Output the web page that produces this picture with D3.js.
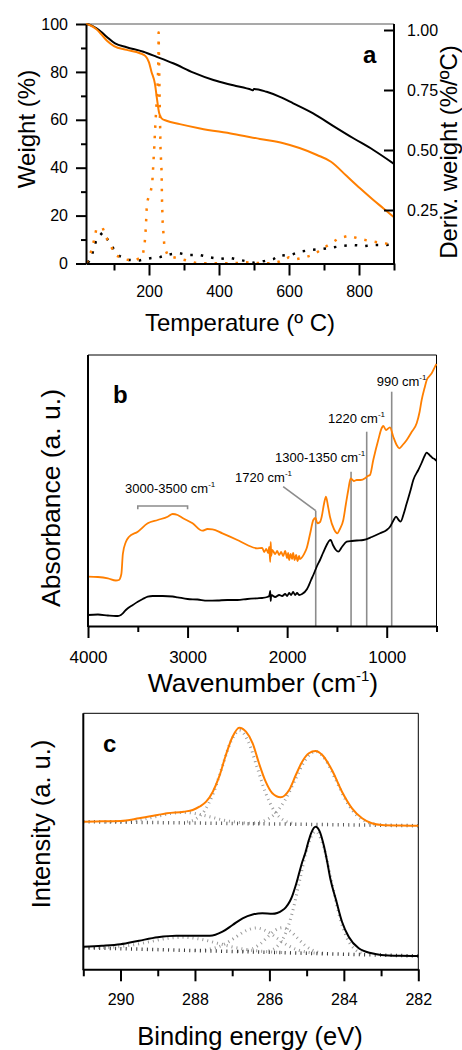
<!DOCTYPE html>
<html><head><meta charset="utf-8">
<script src="https://cdn.jsdelivr.net/npm/d3@7"></script>
<style>
html,body{margin:0;padding:0;background:#fff;}
svg{display:block;}
text{font-family:"Liberation Sans",Arial,sans-serif;fill:#000;}
</style></head><body>
<svg id="c" width="462" height="1050"></svg>
<script>
// ---------- Panel a: TGA (weight %) and derivative (%/ºC) ----------
const tgaBlack = [[20,100],[30,99.7],[50,98.2],[65,96.5],[79,94.7],[103,91.9],[136,90.3],[184,88.4],[222,86.3],[269,83.6],[327,79.7],[384,76.6],[441,74.4],[493,72.5],[497,72.3],[500,72.9],[536,71.7],[574,69.6],[612,66.9],[669,62.7],[727,57.4],[784,52.3],[841,47.4],[900,41.6]];
const tgaOrange = [[20,100],[30,99.6],[50,97.8],[65,95.5],[80,93],[100,90.8],[136,89.2],[174,87.8],[190,86.6],[200,84],[207,80.1],[217,75],[223,68.5],[229,62.8],[236,60.6],[250,59.6],[288,58.2],[346,56.4],[441,54.1],[517,52.0],[584,50.2],[630,48.2],[680,45.3],[720,42.5],[765,36.5],[803,31.4],[841,26.5],[870,23],[900,19.3]];
const dtgBlack = [[25,0.03],[34,0.045],[42,0.09],[51,0.132],[68,0.157],[84,0.122],[99,0.0875],[116,0.058],[142,0.042],[173,0.04],[204,0.049],[232,0.054],[259,0.065],[287,0.07],[309,0.0625],[345,0.0625],[370,0.054],[402,0.046],[430,0.051],[466,0.04],[501,0.03],[530,0.0375],[556,0.046],[575,0.0625],[591,0.06],[610,0.065],[630,0.076],[661,0.083],[693,0.0875],[722,0.093],[750,0.1],[784,0.104],[817,0.1],[847,0.104],[878,0.104],[900,0.107]];
const dtgOrange = [[22,0.03],[34,0.074],[42,0.118],[49,0.167],[67,0.178],[78,0.136],[91,0.1],[104,0.0625],[127,0.046],[156,0.0375],[181,0.055],[187,0.1],[190,0.155],[192,0.21],[194,0.28],[198,0.30],[202,0.31],[209,0.354],[211,0.405],[213,0.458],[215,0.51],[218,0.6],[221,0.68],[224,0.75],[226,0.83],[227,0.9],[227.5,0.99],[230,0.75],[233,0.5],[236,0.41],[237,0.30],[239,0.2],[244,0.097],[254,0.058],[283,0.049],[313,0.0375],[337,0.028],[380,0.028],[440,0.028],[475,0.032],[501,0.03],[528,0.028],[549,0.028],[573,0.035],[599,0.053],[621,0.045],[647,0.053],[672,0.065],[694,0.0875],[720,0.111],[742,0.132],[771,0.143],[797,0.132],[826,0.122],[858,0.114],[890,0.108],[900,0.106]];
const aTicksX = [200,400,600,800];
const aMinorX = [100,300,500,700,900];
const aTicksY = [0,20,40,60,80,100];
const aMinorY = [10,30,50,70,90];
const aTicksY2 = [0.25,0.5,0.75,1.0];

// ---------- Panel b: FTIR ----------
const ftirOrange = [[4000,49.3],[3900,49],[3800,47.7],[3720,45.5],[3690,46],[3665,52],[3650,72],[3620,84],[3590,89],[3500,94.3],[3400,102.7],[3300,106],[3200,109.3],[3150,112],[3100,111],[3050,108],[2950,102.7],[2850,95.3],[2800,97],[2750,96.7],[2650,92.7],[2500,86],[2400,81],[2300,77.7],[2250,78],[2230,74],[2210,77],[2190,73],[2180,79],[2170,64],[2165,84],[2160,70],[2150,76],[2120,72],[2100,75],[2080,71],[2060,74],[2040,70],[2020,75],[2000,68],[1990,73],[1980,66],[1965,72],[1950,67],[1940,73],[1925,66],[1910,71],[1895,65],[1880,70],[1871,67],[1830,72],[1804,77.7],[1770,92],[1737,106],[1715,108],[1697,102.7],[1670,104],[1653,109.3],[1630,122],[1610,129.3],[1590,120],[1570,109.3],[1530,97],[1496,92.7],[1470,97],[1436,106],[1410,122],[1386,136],[1362,147.7],[1330,145],[1301,146],[1260,146],[1218,147.7],[1190,150],[1168,151],[1135,166],[1085,186],[1050,198],[1034,200],[1007,196],[967,198.7],[934,189.3],[900,181],[874,177.7],[840,181],[799,186],[750,194],[699,202.7],[670,214],[649,226],[620,238],[598,246],[570,250],[548,252.7],[515,259.3],[500,262]];
const ftirBlack = [[4000,11],[3900,11.5],[3800,10.5],[3720,10],[3700,10],[3670,11],[3650,12.7],[3620,16],[3600,17.7],[3550,21],[3500,24.3],[3450,27],[3400,29.3],[3350,30],[3250,30],[3150,29.5],[3100,28.7],[3000,27],[2900,26.5],[2800,25.3],[2700,25.5],[2600,26],[2500,26],[2400,27],[2300,27.7],[2250,28],[2200,29],[2180,30],[2170,35],[2165,25],[2160,31],[2120,29],[2080,31],[2050,30],[2020,32],[2000,30],[1980,33],[1960,31],[1940,34],[1920,31],[1900,33],[1880,31],[1850,32],[1800,37],[1788,39.3],[1760,46],[1737,51],[1700,60],[1670,66],[1640,73],[1603,81],[1580,85],[1563,86],[1540,81],[1510,76],[1486,74.3],[1450,79],[1402,84.3],[1350,85],[1300,85.5],[1235,86],[1150,89],[1067,92.7],[1000,96],[967,99.3],[930,106],[907,109.3],[880,106],[860,104.3],[830,112],[799,122.7],[760,136],[733,146],[683,156],[650,163],[620,170],[600,173.3],[580,172],[560,170],[540,168],[520,167],[500,165]];
const bTicksX = [4000,3000,2000,1000];
const bMinorX = [3500,2500,1500,500];
const annoWn = [1713,1358,1201,950];
const annoTop = [115.3,154.3,194.3,234.3];
const annoLabels = ["1720","1300-1350","1220","990"];
const annoLeader = [2040,139.3];
const bracketWn = [3500,3000];
const bracketLevel = [120,116.7];

// ---------- Panel c: XPS C1s ----------
const xpsOrange = [[291,147.6],[290.5,148],[290,148.3],[289.5,151],[289,154.3],[288.75,156],[288.3,157.6],[288.06,159.3],[287.88,162.6],[287.7,167.6],[287.52,177.6],[287.35,192.6],[287.17,214.3],[286.99,232.6],[286.81,241.6],[286.63,237.6],[286.45,226],[286.28,206],[286.1,187.6],[285.92,176],[285.7,172],[285.47,179.3],[285.29,194.3],[285.12,207.6],[284.94,216],[284.76,218.3],[284.58,214.3],[284.32,199.3],[284.05,177.6],[283.78,161],[283.51,151],[283.25,146],[282.98,144.3],[282.5,143.8],[282,143.6]];
const xpsOrangeBase = [[291,147.6],[282,143.6]];
const xpsOrangeC1 = [[290.4,147.4],[290.05,147.6],[289.7,148.4],[289.35,150.3],[289.0,153.1],[288.65,155.9],[288.3,156.9],[287.95,155.5],[287.6,152.5],[287.25,149.3],[286.9,147.2],[286.55,146.1],[286.2,145.6]];
const xpsOrangeC2 = [[288.21,147.4],[287.975,150.3],[287.74,158.8],[287.505,176.3],[287.27,202.3],[287.035,227.8],[286.8,238.7],[286.565,227.6],[286.33,201.9],[286.095,175.6],[285.86,157.9],[285.625,149.2],[285.39,146.1]];
const xpsOrangeC3 = [[286.41,146.4],[286.135,148.6],[285.86,155.2],[285.585,168.9],[285.31,189.4],[285.035,209.4],[284.76,217.8],[284.485,209.1],[284.21,188.9],[283.935,168.2],[283.66,154.2],[283.385,147.4],[283.11,144.9]];
const xpsBlack = [[291,22.6],[290.5,23.5],[290,25],[289.5,28.6],[289,32],[288.5,33.5],[288,33.5],[287.6,33.5],[287.26,37.6],[286.99,44.3],[286.72,51],[286.45,54.8],[286.19,56],[285.92,55.5],[285.79,56.3],[285.65,59],[285.56,62],[285.45,68],[285.38,74],[285.3,83],[285.21,95],[285.12,107],[285.03,117],[284.95,128],[284.87,137],[284.76,142.6],[284.65,138],[284.54,124],[284.45,108],[284.36,90],[284.21,69.3],[284.05,47.6],[283.87,32.6],[283.6,21],[283.25,16],[283.0,14.3],[282.5,13.5],[282,13.3]];
const xpsBlackBase = [[291,21.5],[282,13.3]];
const xpsBlackC1 = [[291.0,21.6],[290.55,21.7],[290.1,22.4],[289.65,24.5],[289.2,27.7],[288.75,30.9],[288.3,32.0],[287.85,30.1],[287.4,26.1],[286.95,22.0],[286.5,19.2],[286.05,17.6],[285.6,16.7]];
const xpsBlackC2 = [[288.0,19.0],[287.725,19.6],[287.45,21.5],[287.175,25.8],[286.9,32.3],[286.625,38.7],[286.35,41.3],[286.075,38.2],[285.8,31.3],[285.525,24.3],[285.25,19.5],[284.975,17.1],[284.7,16.0]];
const xpsBlackC3 = [[286.85,18.0],[286.65,18.6],[286.45,20.7],[286.25,25.3],[286.05,32.2],[285.85,38.9],[285.65,41.6],[285.45,38.5],[285.25,31.4],[285.05,24.2],[284.85,19.3],[284.65,16.8],[284.45,15.8]];
const xpsBlackC4 = [[286.02,18.3],[285.81,22.2],[285.6,33.1],[285.39,56.0],[285.18,90.2],[284.97,123.7],[284.76,137.8],[284.55,123.3],[284.34,89.5],[284.13,54.9],[283.92,31.6],[283.71,20.2],[283.5,16.0]];
const cTicksX = [290,288,286,284,282];
const cMinorX = [291,289,287,285,283];

// ---------- drawing ----------
const svg = d3.select("#c");
const ORANGE = "#ff7f00";
const GRAY = "#8c8c8c";

function styleAxis(g, fs, sw) {
  g.selectAll("text").attr("font-size", fs).attr("fill", "#000")
    .attr("font-family", '"Liberation Sans",Arial,sans-serif');
  g.selectAll("line").attr("stroke", "#000").attr("stroke-width", sw);
  g.selectAll(".domain").attr("stroke", "#000").attr("stroke-width", 2);
}
function hline(x1, x2, y, col, w) {
  svg.append("line").attr("x1", x1).attr("x2", x2).attr("y1", y).attr("y2", y)
    .attr("stroke", col).attr("stroke-width", w);
}
function vline(x, y1, y2, col, w) {
  svg.append("line").attr("x1", x).attr("x2", x).attr("y1", y1).attr("y2", y2)
    .attr("stroke", col).attr("stroke-width", w);
}
function path(data, sx, sy, col, w, dash, curve) {
  const l = d3.line().x(d => sx(d[0])).y(d => sy(d[1])).curve(curve || d3.curveLinear);
  const p = svg.append("path").attr("d", l(data)).attr("fill", "none")
    .attr("stroke", col).attr("stroke-width", w).attr("stroke-linejoin", "round");
  if (dash) p.attr("stroke-dasharray", dash);
  return p;
}
function bottomAxis(sx, y, major, minor, majLen, minLen, pad, fs) {
  const g = svg.append("g").attr("transform", `translate(0,${y})`)
    .call(d3.axisBottom(sx).tickValues(major).tickSize(majLen).tickSizeOuter(0).tickPadding(pad).tickFormat(d3.format("d")));
  styleAxis(g, fs, 2);
  const g2 = svg.append("g").attr("transform", `translate(0,${y})`)
    .call(d3.axisBottom(sx).tickValues(minor).tickSize(minLen).tickFormat(""));
  g2.select(".domain").remove();
  styleAxis(g2, fs, 2);
}
function panelLetter(x, y, s) {
  svg.append("text").attr("x", x).attr("y", y).attr("font-family", '"Liberation Serif","Times New Roman",serif')
    .attr("font-weight", "bold").attr("font-size", 24).text(s);
}

// ===== Panel a =====
const ax = d3.scaleLinear().domain([20, 900]).range([86, 394]);
const ay = d3.scaleLinear().domain([0, 100]).range([263.5, 24]);
const ay2 = d3.scaleLinear().domain([0, 1]).range([270, 30]);

hline(86, 394, 24, GRAY, 1.5);
path(dtgBlack, ax, ay2, "#000", 2.5, "2.5,8");
path(dtgOrange, ax, ay2, ORANGE, 2.5, "2.5,8");
path(tgaBlack, ax, ay, "#000", 2, null, d3.curveMonotoneX);
path(tgaOrange, ax, ay, ORANGE, 2, null, d3.curveMonotoneX);

bottomAxis(ax, 263.5, aTicksX, aMinorX, 12, 7, 10, 16);
{
  const g = svg.append("g").attr("transform", "translate(86,0)")
    .call(d3.axisLeft(ay).tickValues(aTicksY).tickSize(10).tickSizeOuter(0).tickPadding(8));
  styleAxis(g, 16, 2);
  const g2 = svg.append("g").attr("transform", "translate(86,0)")
    .call(d3.axisLeft(ay).tickValues(aMinorY).tickSize(5).tickFormat(""));
  g2.select(".domain").remove(); styleAxis(g2, 16, 2);
  const g3 = svg.append("g").attr("transform", "translate(394,0)")
    .call(d3.axisRight(ay2).tickValues(aTicksY2).tickSize(-10).tickPadding(13).tickFormat(d3.format(".2f")));
  g3.select(".domain").remove(); styleAxis(g3, 16, 2);
  vline(394, 24, 264.5, "#000", 2);
}
svg.append("text").attr("x", 240).attr("y", 331).attr("text-anchor", "middle").attr("font-size", 24).text("Temperature (º C)");
svg.append("text").attr("transform", "translate(35,129) rotate(-90)").attr("text-anchor", "middle").attr("font-size", 24).text("Weight (%)");
svg.append("text").attr("transform", "translate(457,152) rotate(-90)").attr("text-anchor", "middle").attr("font-size", 24).text("Deriv. weight (%/ºC)");
panelLetter(363, 63, "a");

// ===== Panel b =====
const bx = d3.scaleLinear().domain([4000, 500]).range([88, 436.5]);
const by = d3.scaleLinear().domain([0, 271]).range([626, 355]);
hline(88, 436.5, 355, "#000", 1);
vline(436.5, 355, 626, "#000", 1);

// annotations
annoWn.forEach((w, i) => vline(bx(w), by(0), by(annoTop[i]), GRAY, 1.6));
svg.append("line").attr("x1", bx(annoWn[0])).attr("y1", by(annoTop[0]))
  .attr("x2", bx(annoLeader[0])).attr("y2", by(annoLeader[1])).attr("stroke", GRAY).attr("stroke-width", 1.6);
svg.append("path").attr("fill", "none").attr("stroke", GRAY).attr("stroke-width", 1.6)
  .attr("d", `M${bx(bracketWn[0])},${by(bracketLevel[1])}V${by(bracketLevel[0])}H${bx(bracketWn[1])}V${by(bracketLevel[1])}`);

path(ftirBlack, bx, by, "#000", 1.8, null, d3.curveMonotoneX);
path(ftirOrange, bx, by, ORANGE, 1.8, null, d3.curveMonotoneX);

function annoText(x, y, main) {
  const t = svg.append("text").attr("x", x).attr("y", y).attr("font-size", 13);
  t.append("tspan").text(main + " cm");
  t.append("tspan").attr("dy", -6).attr("font-size", 8).text("-1");
}
annoText(125, 493.3, "3000-3500");
annoText(235, 481.7, annoLabels[0]);
annoText(275, 461.7, annoLabels[1]);
annoText(328, 422.7, annoLabels[2]);
annoText(376.7, 386, annoLabels[3]);

bottomAxis(bx, 626, bTicksX, bMinorX, 12, 6, 13, 17);
vline(88, 355, 627, "#000", 2);
{
  const t = svg.append("text").attr("x", 263).attr("y", 692).attr("text-anchor", "middle").attr("font-size", 26.5);
  t.append("tspan").text("Wavenumber (cm");
  t.append("tspan").attr("dy", -11).attr("font-size", 15).text("-1");
  t.append("tspan").attr("dy", 11).text(")");
}
svg.append("text").attr("transform", "translate(60,498) rotate(-90)").attr("text-anchor", "middle").attr("font-size", 26.5).text("Absorbance (a. u.)");
panelLetter(113, 403, "b");

// ===== Panel c =====
const cx = d3.scaleLinear().domain([291, 282]).range([83.3, 418.3]);
const cy = d3.scaleLinear().domain([0, 256]).range([969.3, 713.3]);
hline(83.3, 418.3, 713.3, "#000", 1);
vline(418.3, 713.3, 969.3, "#000", 1);

const compDash = "1,4";
[xpsOrangeC1, xpsOrangeC2, xpsOrangeC3, xpsBlackC1, xpsBlackC2, xpsBlackC3, xpsBlackC4]
  .forEach(c => path(c, cx, cy, "#9a9a9a", 3, compDash, d3.curveMonotoneX));
path(xpsOrangeBase, cx, cy, "#555", 3.5, "1,4.3");
path(xpsBlackBase, cx, cy, "#333", 3.5, "1,4.3");
path(xpsBlack, cx, cy, "#000", 2, null, d3.curveMonotoneX);
path(xpsOrange, cx, cy, ORANGE, 2, null, d3.curveMonotoneX);

bottomAxis(cx, 969.3, cTicksX, cMinorX, 12, 7, 12, 16);
vline(83.3, 713.3, 970.3, "#000", 2);
svg.append("text").attr("x", 250).attr("y", 1045).attr("text-anchor", "middle").attr("font-size", 25.5).text("Binding energy (eV)");
svg.append("text").attr("transform", "translate(50,824) rotate(-90)").attr("text-anchor", "middle").attr("font-size", 25.5).text("Intensity (a. u.)");
panelLetter(103, 751.7, "c");
</script></body></html>
